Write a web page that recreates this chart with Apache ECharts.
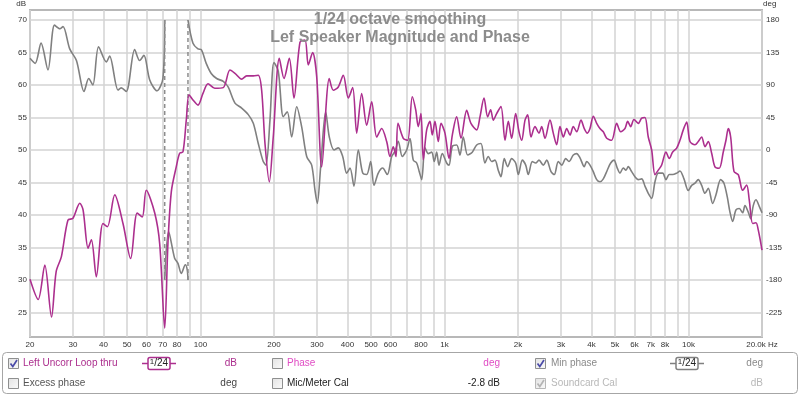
<!DOCTYPE html>
<html>
<head>
<meta charset="utf-8">
<script src="https://cdn.jsdelivr.net/npm/echarts@6/dist/echarts.min.js"></script>
<style>
html,body{margin:0;padding:0;background:#fff;}
#chart{width:800px;height:396px;}
</style>
</head>
<body>
<div id="chart"></div>
<script>
// ---------- DATA ----------
// Left Uncorr Loop thru — magnitude (dB), frequencies in Hz
const magFreq = [
  20,21.6,23.0,24.5,25.6,26.9,28.6,30.0,32.0,33.0,
  34.6,35.7,37.4,39.8,41.5,44.5,48.1,51.7,55.0,57.7,
  59.9,64.9,68.0,71.3,73.5,75.9,79.5,82.1,84.7,87.4,
  89.7,93.1,97.6,102.3,107.3,114.3,123.9,132,138.4,147.4,
  154.5,164.5,172.4,178.0,183.7,191.3,198.6,210.3,219.8,231.1,
  241.5,255.6,268.0,276.4,288,299.2,313.7,337.0,350.0,366.9,
  384.6,403.2,420.3,436.4,457.5,479.6,502.8,527.1,552.5,579.2,
  597.5,616.4,632.3,644.4,677.4,706.1,737.5,761.5,780.4,800.6,
  818.1,844.8,871.5,890.6,913.6,942.5,966.9,1004,1043,1076,
  1121,1168,1232,1283,1354,1397,1451,1502,1545,1584,
  1635,1703,1769,1825,1884,1956,2019,2071,2137,2192,
  2261,2348,2438,2501,2580,2705,2790,2880,2972,3067,
  3167,3267,3370,3480,3624,3738,3846,3945,4070,4203,
  4335,4473,4619,4841,5075,5271,5489,5630,5792,5975,
  6223,6425,6629,6838,7061,7285,7515,7760,8081,8337,
  8608,8940,9222,9514,9825,10135,10625,10960,11318,11676,
  12046,12438,12832,13363,13877,14235,14547,14881,15351,15987,
  16664,17306,17735,18313,18893,19306,20000
];
const magDb = [
  30.1,27.0,32.3,24.3,31.3,33.6,39.2,39.5,41.8,40.8,
  34.9,36.2,30.5,38.7,38.2,43.1,38.7,33.3,40.3,39.7,
  43.8,40.3,35.6,22.6,35.6,43.6,47.4,49.5,49.7,54.6,
  58.5,57.7,56.9,58.7,60.2,59.5,59.6,62.3,61.8,60.9,
  61.4,61.4,61.5,59.2,51.0,45.1,52.0,64.1,61.0,64.1,
  58.0,66.6,66.9,63.1,65.0,61.3,47.4,61.0,59.2,59.7,
  61.5,58.0,59.6,52.6,58.7,53.8,57.4,52.0,53.3,51.3,
  49.0,50.5,49.0,54.1,51.8,51.5,58.2,56.2,53.6,55.6,
  48.5,53.1,54.4,52.3,54.4,51.3,54.1,52.6,48.7,52.3,
  55.1,51.8,56.1,54.1,53.1,55.1,58.0,55.1,56.2,54.6,
  55.6,56.7,51.5,54.4,51.8,55.6,52.8,51.5,54.6,55.4,
  52.0,53.6,52.6,53.6,51.8,54.6,52.6,50.8,53.6,52.0,
  53.3,52.3,53.6,52.8,54.6,53.3,52.6,53.3,55.2,54.1,
  53.3,52.8,51.8,51.5,54.1,52.8,53.3,54.4,53.6,54.7,
  54.1,54.9,55.0,52.0,50.0,46.2,46.9,47.7,49.7,48.7,
  49.7,50.3,51.5,53.1,54.3,51.3,50.8,51.3,52.0,50.5,
  51.3,49.5,47.4,47.2,49.7,51.5,53.3,52.0,46.7,46.2,
  43.8,44.6,42.3,38.7,38.8,37.7,34.6
];

// Min phase (deg) — three pieces between the ±180° wraps
const phaseAFreq = [20,21.0,22.2,23.7,25.2,26.5,27.3,29.1,31.0,33.3,
  34.8,36.2,38.2,41.1,42.4,45.9,47.3,49.6,53.7,56.3,
  58.6,61.9,66.3,70.1,71.3];
const phaseADeg = [127,120,148,111,173,168,171,140,124,81,
  99,90,143,122,130,83,86,81,139,124,
  131,97,82,99,180];

const phaseBFreq = [71.3,74.0,78.3,80.8,83.4,86.6,88.2,88.8];
const phaseBDeg  = [-180,-113,-150,-157,-171,-159,-166,-180];

const phaseCFreq = [
  88.8,93.1,97.6,100.7,105.5,110.6,116.4,123.9,129.9,138.4,
  147.4,156.9,164.5,172.4,180.7,185.4,192.5,200,208.3,218.3,
  226.7,236.3,247.8,259.7,272.3,285.4,294.5,300.9,310.7,325.7,
  337.0,352.3,366.9,382.4,397.1,409.7,425.4,443.1,461.9,479.6,
  498.0,513.8,535.1,557.8,582.5,607.2,626.4,646.2,671.0,699.5,
  721.6,744.4,768.7,787.8,805.8,831.4,857.7,885.6,907.6,928.4,
  948.8,978.8,1020,1043,1076,1121,1157,1193,1244,1299,
  1354,1410,1464,1511,1560,1609,1660,1703,1757,1814,
  1884,1956,2006,2083,2151,2204,2289,2363,2438,2539,
  2622,2731,2817,2925,3021,3137,3236,3370,3480,3590,
  3738,3824,3945,4070,4203,4335,4473,4644,4796,4948,
  5104,5236,5401,5541,5662,5847,6032,6223,6425,6629,
  6838,7061,7285,7515,7833,8081,8337,8608,8940,9222,
  9577,9974,10299,10625,10960,11318,11676,12046,12556,12953,
  13541,13968,14410,14782,15163,15643,16139,16664,17030,17568,
  17972,18417,18893,19489,20000
];
const phaseCDeg = [
  180,148,140,139,120,106,99,95,87,65,
  58,49,37,9,-16,-21,41,121,109,46,
  53,18,60,32,-9,-21,-56,-74,-23,53,
  18,0,3,-9,-32,-25,-50,0,-32,-34,
  -16,-49,-32,-25,-34,-9,-2,12,-9,0,
  16,-14,-18,-30,-41,3,-5,-3,-16,-3,
  -21,-5,-18,-21,5,7,-7,18,-7,-3,
  7,9,-18,-9,-16,-14,-28,-37,-12,-23,
  -12,-18,-34,-14,-21,-34,-16,-18,-14,-21,
  -14,-30,-34,-16,-21,-12,-16,-7,-5,-11,
  -23,-16,-21,-30,-41,-44,-40,-28,-18,-14,
  -25,-32,-25,-28,-23,-30,-37,-41,-40,-50,
  -60,-67,-44,-32,-32,-41,-34,-34,-32,-29,
  -40,-56,-49,-46,-41,-49,-60,-53,-74,-62,
  -41,-46,-65,-86,-99,-83,-81,-87,-77,-86,
  -95,-77,-69,-78,-87
];

// phase wrap frequencies (dashed ±180° jumps)
const wrapFreq = [71.3, 88.8];
const wrapFrom = [180, -180];
const wrapTo   = [-180, 180];

// axes
const xLabelValues = [20,30,40,50,60,70,80,100,200,300,400,500,600,800,1000,2000,3000,4000,5000,6000,7000,8000,10000,20000];
const xLabelTexts  = ['20','30','40','50','60','70','80','100','200','300','400','500','600','800','1k','2k','3k','4k','5k','6k','7k','8k','10k','20.0k Hz'];
const xGridValues  = [20,30,40,50,60,70,80,90,100,200,300,400,500,600,700,800,900,1000,2000,3000,4000,5000,6000,7000,8000,9000,10000,20000];
const dbTicks  = [25,30,35,40,45,50,55,60,65,70];
const degTicks = [-225,-180,-135,-90,-45,0,45,90,135,180];
const titleLines = ['1/24 octave smoothing', 'Lef Speaker Magnitude and Phase'];

// ---------- CHART ----------
const pair = (xs, ys) => xs.map((x, i) => [x, ys[i]]);
const MAG = '#ac2f8e';
const GRAY = '#808080';
const FONT = 'Liberation Sans';

const wrapSeries = wrapFreq.map((f, i) => ({
  type: 'line', yAxisIndex: 1, silent: true, symbol: 'none', z: 3,
  data: [[f, wrapFrom[i]], [f, wrapTo[i]]],
  lineStyle: { color: '#8c8c8c', width: 1.5, type: [4, 3] }
}));

const phaseLine = (xs, ys) => ({
  type: 'line', yAxisIndex: 1, symbol: 'none', smooth: 0.3, z: 3,
  data: pair(xs, ys),
  lineStyle: { color: GRAY, width: 1.6 }
});

const chart = echarts.init(document.getElementById('chart'), null, { renderer: 'canvas' });

function checkbox(x, y, checked, disabled) {
  const els = [{
    type: 'rect', shape: { x: x, y: y, width: 10, height: 10 },
    style: { fill: new echarts.graphic.LinearGradient(0, 0, 1, 1, [{offset: 0, color: '#e2e2e2'}, {offset: 1, color: '#fbfbfb'}]),
             stroke: disabled ? '#b8b8b8' : '#8e8f8f', lineWidth: 1 }
  }];
  if (checked) {
    els.push({ type: 'polyline', shape: { points: [[x + 2, y + 5], [x + 4.3, y + 8], [x + 8.5, y + 1.5]] },
      style: { stroke: disabled ? '#b4b4b4' : '#4b4ba8', lineWidth: 1.7, fill: null } });
  }
  return els;
}
function txt(x, y, s, color, align) {
  return { type: 'text', x: x, y: y,
    style: { text: s, fill: color, font: '10px "' + FONT + '"', align: align || 'left', verticalAlign: 'middle' } };
}
function smoothIcon(x, y, color) {
  return [
    { type: 'line', shape: { x1: x - 6, y1: y, x2: x + 28, y2: y }, style: { stroke: color, lineWidth: 1.5 } },
    { type: 'rect', shape: { x: x, y: y - 6, width: 22, height: 12, r: 2 }, style: { fill: '#fff', stroke: color, lineWidth: 1.5 } },
    { type: 'text', x: x + 11, y: y, style: {
        text: '{a|1}{b|/24}', align: 'center', verticalAlign: 'middle',
        rich: { a: { font: '8px "' + FONT + '"', fill: '#222', padding: [0, 0, 4, 0] },
                b: { font: '10px "' + FONT + '"', fill: '#222' } } } }
  ];
}

const titleEls = titleLines.map((s, i) => ({
  type: 'text', x: 400, y: 20 + i * 17.5, z: 10,
  style: { text: s, fill: '#8c8c8c', font: 'bold 16px "' + FONT + '"', align: 'center', verticalAlign: 'middle' }
}));

const panel = [].concat(
  titleEls,
  [{ type: 'rect', shape: { x: 2.5, y: 352.5, width: 795, height: 41, r: 4 },
     style: { fill: '#fff', stroke: '#a6a6a6', lineWidth: 1 } }],
  checkbox(8.5, 358.5, true, false),
  [txt(23, 363.5, 'Left Uncorr Loop thru', MAG)],
  smoothIcon(148, 363.5, MAG),
  [txt(237, 363.5, 'dB', MAG, 'right')],
  checkbox(272.5, 358.5, false, false),
  [txt(287, 363.5, 'Phase', '#e04cc4')],
  [txt(500, 363.5, 'deg', '#e04cc4', 'right')],
  checkbox(535.5, 358.5, true, false),
  [txt(551, 363.5, 'Min phase', '#8a8a8a')],
  smoothIcon(676, 363.5, '#808080'),
  [txt(763, 363.5, 'deg', '#8a8a8a', 'right')],
  checkbox(8.5, 378.5, false, false),
  [txt(23, 383.5, 'Excess phase', '#555')],
  [txt(237, 383.5, 'deg', '#444', 'right')],
  checkbox(272.5, 378.5, false, false),
  [txt(287, 383.5, 'Mic/Meter Cal', '#222')],
  [txt(500, 383.5, '-2.8 dB', '#222', 'right')],
  checkbox(535.5, 378.5, true, true),
  [txt(551, 383.5, 'Soundcard Cal', '#b8b8b8')],
  [txt(763, 383.5, 'dB', '#b8b8b8', 'right')]
);

chart.setOption({
  animation: false,
  backgroundColor: '#fff',
  grid: { left: 30, right: 38, top: 10, bottom: 59, containLabel: false, outerBoundsMode: 'none',
          show: true, borderColor: '#b8b8b8', borderWidth: 2, backgroundColor: 'transparent' },
  xAxis: {
    type: 'log', logBase: 10, min: 20, max: 20000,
    axisLine: { show: false },
    axisTick: { show: false, customValues: xGridValues },
    axisLabel: {
      customValues: xLabelValues, margin: 4, color: '#333', fontFamily: FONT, fontSize: 8,
      formatter: v => { const i = xLabelValues.findIndex(t => Math.abs(t - v) < 1e-6 * t); return i >= 0 ? xLabelTexts[i] : ''; }
    },
    splitLine: { show: true, lineStyle: { color: '#d3d3d3', width: 1.5 } }
  },
  yAxis: [{
    type: 'value', min: 21.23, max: 71.54, position: 'left',
    name: 'dB', nameLocation: 'end', nameGap: 2,
    nameTextStyle: { align: 'right', verticalAlign: 'bottom', color: '#333', fontFamily: FONT, fontSize: 8, padding: [0, 4, 0, 0] },
    axisLine: { show: false }, axisTick: { show: false, customValues: dbTicks },
    axisLabel: { customValues: dbTicks, margin: 3, color: '#333', fontFamily: FONT, fontSize: 8 },
    splitLine: { show: true, lineStyle: { color: '#d3d3d3', width: 1.5 } }
  }, {
    type: 'value', min: -259, max: 193.9, position: 'right',
    name: 'deg', nameLocation: 'end', nameGap: 2,
    nameTextStyle: { align: 'left', verticalAlign: 'bottom', color: '#333', fontFamily: FONT, fontSize: 8, padding: [0, 0, 0, 1] },
    axisLine: { show: false }, axisTick: { show: false, customValues: degTicks },
    axisLabel: { customValues: degTicks, margin: 4, color: '#333', fontFamily: FONT, fontSize: 8 },
    splitLine: { show: false }
  }],
  series: [
    phaseLine(phaseAFreq, phaseADeg),
    phaseLine(phaseBFreq, phaseBDeg),
    phaseLine(phaseCFreq, phaseCDeg),
    ...wrapSeries,
    {
      type: 'line', yAxisIndex: 0, symbol: 'none', smooth: 0.3, z: 4,
      data: pair(magFreq, magDb),
      lineStyle: { color: MAG, width: 1.6 }
    }
  ],
  graphic: { elements: panel }
});
</script>
</body>
</html>
